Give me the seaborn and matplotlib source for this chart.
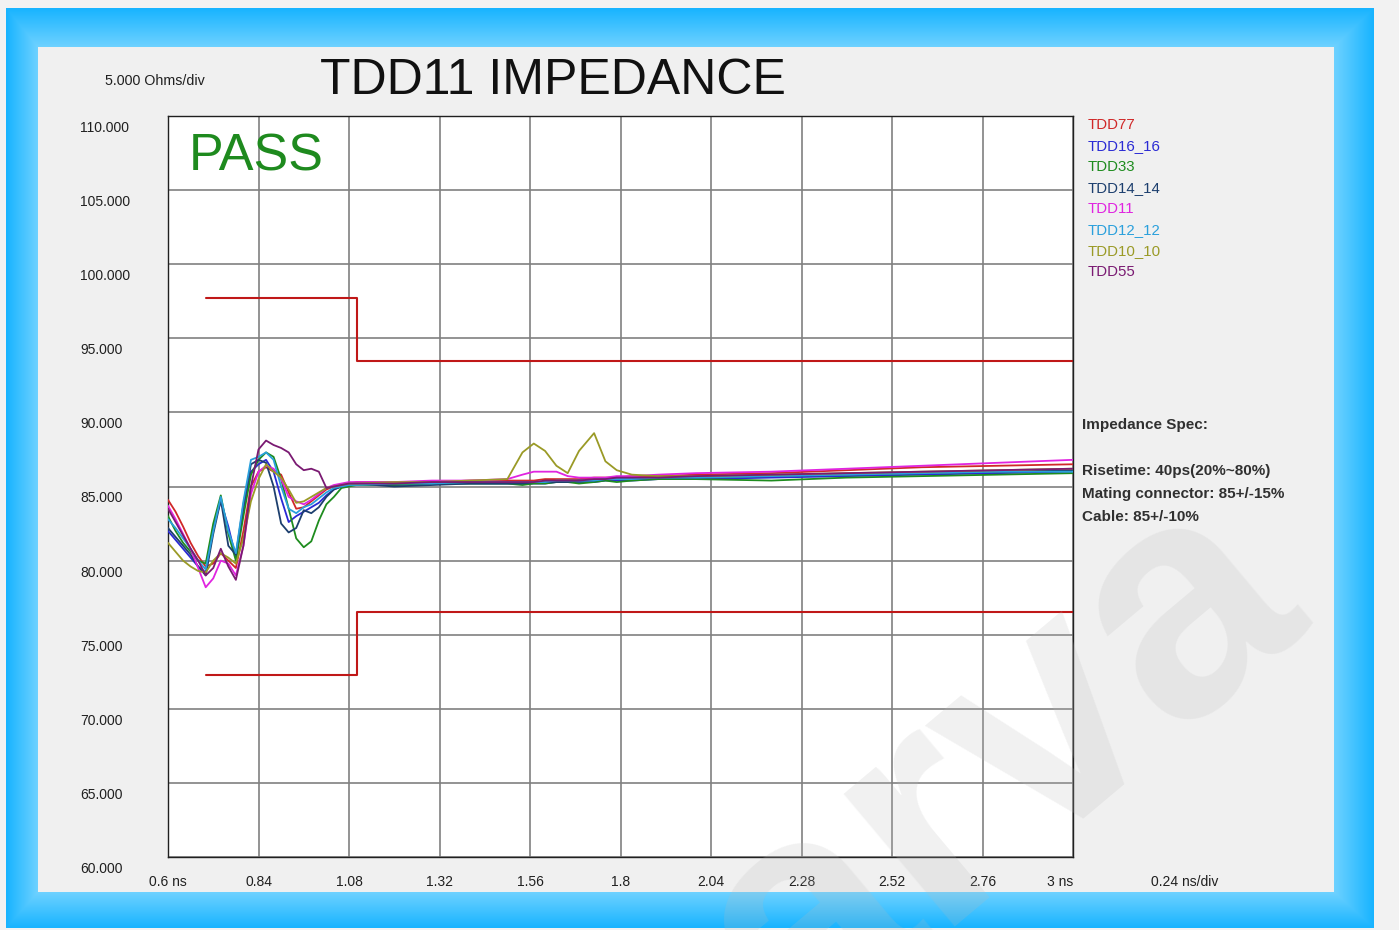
import numpy as np
import pandas as pd
import matplotlib
matplotlib.use("Agg")
import matplotlib.pyplot as plt
import matplotlib.transforms as mtrans
import seaborn as sns

# ---------------- data ----------------
t = [0.60, 0.62, 0.64, 0.66, 0.68, 0.70, 0.72, 0.74, 0.76, 0.78, 0.80, 0.82, 0.84,
     0.86, 0.88, 0.90, 0.92, 0.94, 0.96, 0.98, 1.00, 1.02, 1.04, 1.06, 1.08, 1.10,
     1.20, 1.30, 1.40, 1.50, 1.54, 1.57, 1.60, 1.63, 1.66, 1.69, 1.73, 1.76, 1.79,
     1.83, 1.90, 2.00, 2.20, 2.40, 2.60, 2.80, 3.00]

tdd77 = [84.1, 83.3, 82.3, 81.2, 80.3, 79.6, 79.8, 80.5, 80.0, 79.5, 82.0, 85.0, 86.0,
         86.3, 86.0, 85.8, 84.6, 83.5, 83.6, 84.0, 84.4, 84.8, 85.0, 85.1, 85.2, 85.3,
         85.3, 85.3, 85.4, 85.4, 85.4, 85.4, 85.5, 85.5, 85.5, 85.5, 85.6, 85.6, 85.6,
         85.7, 85.7, 85.8, 85.9, 86.1, 86.3, 86.4, 86.5]
tdd16_16 = [82.0, 81.4, 80.8, 80.2, 79.6, 79.2, 82.3, 84.0, 82.3, 80.2, 83.5, 86.0, 86.5,
            86.8, 86.0, 84.2, 82.6, 83.0, 83.3, 83.6, 83.9, 84.4, 84.8, 85.0, 85.1, 85.2,
            85.1, 85.2, 85.2, 85.2, 85.2, 85.2, 85.2, 85.3, 85.3, 85.3, 85.3, 85.4, 85.4,
            85.4, 85.5, 85.5, 85.6, 85.7, 85.8, 85.9, 86.0]
tdd33 = [83.0, 82.0, 81.2, 80.6, 80.0, 79.8, 82.5, 84.4, 81.8, 80.0, 83.0, 85.8, 86.8,
         87.3, 87.0, 85.5, 83.5, 81.5, 80.9, 81.3, 82.7, 83.8, 84.3, 84.9, 85.0, 85.1,
         85.1, 85.2, 85.2, 85.2, 85.1, 85.2, 85.2, 85.3, 85.3, 85.2, 85.3, 85.4, 85.3,
         85.4, 85.5, 85.5, 85.4, 85.6, 85.7, 85.8, 85.9]
tdd14_14 = [82.2, 81.6, 81.0, 80.4, 79.6, 79.0, 81.8, 84.1, 81.0, 80.4, 83.8, 86.5, 86.8,
            86.6, 85.0, 82.5, 81.9, 82.2, 83.4, 83.2, 83.6, 84.3, 84.8, 85.0, 85.1, 85.2,
            85.0, 85.1, 85.2, 85.2, 85.2, 85.3, 85.3, 85.3, 85.3, 85.4, 85.4, 85.5, 85.5,
            85.5, 85.6, 85.6, 85.7, 85.8, 85.9, 86.0, 86.1]
tdd11 = [83.7, 82.8, 81.8, 80.8, 79.5, 78.2, 78.8, 80.0, 79.8, 79.0, 81.0, 84.5, 86.0,
         86.4, 86.2, 85.5, 84.3, 84.0, 83.8, 84.1, 84.5, 84.9, 85.1, 85.2, 85.3, 85.3,
         85.3, 85.4, 85.4, 85.5, 85.8, 86.0, 86.0, 86.0, 85.7, 85.6, 85.6, 85.6, 85.7,
         85.7, 85.8, 85.9, 86.0, 86.2, 86.4, 86.6, 86.8]
tdd12_12 = [82.8, 82.2, 81.5, 80.8, 80.0, 79.4, 82.0, 84.3, 82.0, 80.5, 84.0, 86.8, 87.0,
            87.3, 86.8, 85.0, 83.5, 83.2, 83.6, 83.8, 84.2, 84.6, 84.9, 85.0, 85.1, 85.1,
            85.2, 85.2, 85.3, 85.3, 85.3, 85.3, 85.3, 85.4, 85.4, 85.4, 85.4, 85.5, 85.5,
            85.5, 85.6, 85.6, 85.7, 85.8, 85.9, 86.0, 86.0]
tdd10_10 = [81.2, 80.6, 80.0, 79.6, 79.3, 79.2, 80.0, 80.5, 80.2, 79.8, 81.5, 84.0, 85.5,
            86.5, 86.0, 85.6, 84.8, 83.9, 84.0, 84.3, 84.6, 84.9, 85.0, 85.1, 85.2, 85.2,
            85.3, 85.3, 85.4, 85.5, 87.3, 87.9, 87.4, 86.4, 85.9, 87.4, 88.6, 86.7, 86.1,
            85.8, 85.7, 85.7, 85.8, 85.9, 86.0, 86.1, 86.2]
tdd55 = [83.5, 82.6, 81.7, 80.8, 80.0, 79.0, 79.5, 80.8, 79.6, 78.7, 81.0, 85.0, 87.5,
         88.1, 87.8, 87.6, 87.3, 86.5, 86.1, 86.2, 86.0, 84.9, 85.0, 85.1, 85.2, 85.2,
         85.2, 85.3, 85.3, 85.3, 85.3, 85.3, 85.4, 85.4, 85.4, 85.4, 85.5, 85.5, 85.6,
         85.6, 85.6, 85.7, 85.8, 85.9, 86.0, 86.1, 86.2]

series_names = ["TDD77", "TDD16_16", "TDD33", "TDD14_14", "TDD11", "TDD12_12", "TDD10_10", "TDD55"]
series_values = [tdd77, tdd16_16, tdd33, tdd14_14, tdd11, tdd12_12, tdd10_10, tdd55]

# spec limits (85 ohm +/-15% mating connector, +/-10% cable)
spec_x = [0.70, 1.10, 3.00]
upper_limit = [97.75, 93.5, 93.5]
lower_limit = [72.25, 76.5, 76.5]

x_ticks = [0.6, 0.84, 1.08, 1.32, 1.56, 1.8, 2.04, 2.28, 2.52, 2.76, 3.0]
x_labels = ["0.6 ns", "0.84", "1.08", "1.32", "1.56", "1.8", "2.04", "2.28", "2.52", "2.76", "3 ns"]
y_ticks = [60, 65, 70, 75, 80, 85, 90, 95, 100, 105, 110]
y_labels = ["60.000", "65.000", "70.000", "75.000", "80.000", "85.000", "90.000",
            "95.000", "100.000", "105.000", "110.000"]

spec_lines = ["Risetime: 40ps(20%~80%)", "Mating connector: 85+/-15%", "Cable: 85+/-10%"]

colors = {"TDD77": "#d02828", "TDD16_16": "#2a2ad4", "TDD33": "#1e8c1e",
          "TDD14_14": "#1d3f6e", "TDD11": "#e024e0", "TDD12_12": "#2aa0dc",
          "TDD10_10": "#9a9a26", "TDD55": "#7a1a72"}

# ---------------- style ----------------
sns.set_theme(style="white")
plt.rcParams["font.family"] = ["Liberation Sans", "DejaVu Sans"]

W, H = 1399, 930
fig = plt.figure(figsize=(W / 100, H / 100), dpi=100)

# background: light grey page, blue gradient frame, grey panel
yy, xx = np.mgrid[0:H, 0:W]
ix0, ix1, iy0, iy1 = 38, 1333, 48, 891
ox0, ox1, oy0, oy1 = 6, 1373, 9, 927
fx = np.where(xx < ix0, (ix0 - xx) / (ix0 - ox0), np.where(xx > ix1, (xx - ix1) / (ox1 - ix1), 0.0))
fy = np.where(yy < iy0, (iy0 - yy) / (iy0 - oy0), np.where(yy > iy1, (yy - iy1) / (oy1 - iy1), 0.0))
f = np.clip(np.maximum(fx, fy), 0, 1)[..., None]
light = np.array([0x70, 0xd2, 0xff]) / 255
dark = np.array([0x18, 0xb4, 0xff]) / 255
img = light * (1 - f) + dark * f
inside = (xx >= ix0) & (xx <= ix1) & (yy >= iy0) & (yy <= iy1)
outside = (xx < ox0) | (xx > ox1) | (yy < oy0) | (yy > oy1)
img[inside] = np.array([0xf0, 0xf0, 0xf0]) / 255
img[outside] = np.array([0xf2, 0xf2, 0xf2]) / 255
bg = fig.add_axes([0, 0, 1, 1], zorder=-10)
bg.imshow(img, extent=(0, 1, 0, 1), aspect="auto", origin="upper", interpolation="nearest")
bg.set_xlim(0, 1)
bg.set_ylim(0, 1)
bg.axis("off")

# plot axes
L, R, T, B = 168, 1073, 116, 857
ax = fig.add_axes([L / W, 1 - B / H, (R - L) / W, (B - T) / H])
ax.set_facecolor("white")

df = pd.DataFrame({
    "t": np.tile(t, len(series_names)),
    "z": np.concatenate([np.asarray(v) for v in series_values]),
    "series": np.repeat(series_names, len(t)),
})

sns.lineplot(data=df, x="t", y="z", hue="series", hue_order=series_names,
             palette=colors, estimator=None, legend=False, linewidth=1.3, ax=ax, zorder=3)

ax.plot(spec_x, upper_limit, drawstyle="steps-post", color="#c01818", lw=1.5, zorder=2)
ax.plot(spec_x, lower_limit, drawstyle="steps-post", color="#c01818", lw=1.5, zorder=2)

ax.set_xlim(0.6, 3.0)
ax.set_ylim(60, 110)
ax.set_xticks(x_ticks)
ax.set_yticks(y_ticks)
ax.set_xticklabels([])
ax.set_yticklabels([])
ax.tick_params(length=0)
ax.grid(True, color="#808080", lw=1.2)
ax.set_axisbelow(True)
ax.set_xlabel("")
ax.set_ylabel("")
for s in ax.spines.values():
    s.set_color("#202020")
    s.set_linewidth(1.0)

# y tick labels (left aligned, sitting just below each grid line)
ytrans = mtrans.blended_transform_factory(ax.transAxes, ax.transData) + \
    mtrans.ScaledTranslation(0, -12 / 100, fig.dpi_scale_trans)
for v, lab in zip(y_ticks, y_labels):
    ax.text((80 - L) / (R - L), v, lab, transform=ytrans, ha="left", va="center",
            fontsize=10, color="#202020", clip_on=False)

# x tick labels
xtrans = mtrans.blended_transform_factory(ax.transData, ax.transAxes) + \
    mtrans.ScaledTranslation(0, -25 / 100, fig.dpi_scale_trans)
for i, (v, lab) in enumerate(zip(x_ticks, x_labels)):
    ha = "right" if i == len(x_ticks) - 1 else "center"
    ax.text(v, 0, lab, transform=xtrans, ha=ha, va="center", fontsize=10,
            color="#202020", clip_on=False)

def fx_(px):
    return px / W

def fy_(py):
    return 1 - py / H

fig.text(fx_(1185), fy_(882), "0.24 ns/div", ha="center", va="center", fontsize=10, color="#202020")
fig.text(fx_(105), fy_(81), "5.000 Ohms/div", ha="left", va="center", fontsize=10.3, color="#202020")
fig.text(fx_(320), fy_(81), "TDD11 IMPEDANCE", ha="left", va="center", fontsize=36, color="#111111")
fig.text(fx_(189), fy_(157), "PASS", ha="left", va="center", fontsize=37.5, color="#1e8a1e")

# legend as coloured labels
for i, name in enumerate(series_names):
    fig.text(fx_(1088), fy_(125 + 21 * i), name, ha="left", va="center",
             fontsize=10.8, color=colors[name])

# spec notes
fig.text(fx_(1082), fy_(425), "Impedance Spec:", ha="left", va="center", fontsize=11,
         fontweight="bold", color="#303030")
for i, line in enumerate(spec_lines):
    fig.text(fx_(1082), fy_(471 + 23 * i), line, ha="left", va="center", fontsize=11,
             fontweight="bold", color="#303030")

# faint watermark (partly off the bottom edge, as in the source image)
fig.text(fx_(1000), fy_(770), "arva", rotation=40, ha="center", va="center", fontsize=235,
         fontweight="bold", color="#bbbbbb", alpha=0.2, zorder=20)

fig.savefig("out.png", dpi=100)
